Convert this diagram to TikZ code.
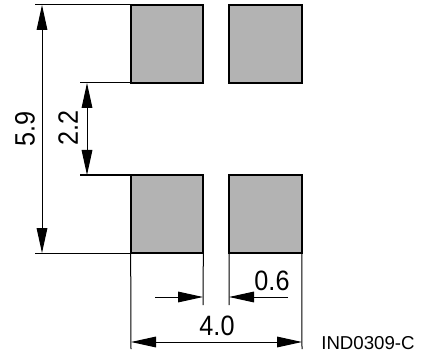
\documentclass[tikz,border=0pt]{standalone}
\usepackage{fontspec}
\setmainfont{Liberation Sans}
\newfontfamily\dimfont[FakeStretch=0.9]{Liberation Sans}
\usetikzlibrary{arrows.meta}
\definecolor{padgray}{HTML}{B3B3B3}
\tikzset{
	padbox/.style={draw=black,fill=padgray,line width=1.5pt,inner sep=0pt,outer sep=0pt,minimum width=54.5pt,minimum height=58.5pt},
	extline/.style={line width=0.75pt},
	dimline/.style={line width=0.75pt,{Triangle[length=18.75pt,width=8pt]}-{Triangle[length=18.75pt,width=8pt]}},
	dimright/.style={line width=0.75pt,-{Triangle[length=18.75pt,width=8pt]}},
	dimlabel/.style={font=\dimfont\fontsize{21}{21}\selectfont,inner sep=0pt}
}
\begin{document}
\begin{tikzpicture}[x=0.75pt,y=-0.75pt]
	\useasboundingbox (0,0) rectangle (428,356);

	% Pads
	\node[padbox] (padTL) at (167,44) {};
	\node[padbox] (padTR) at (265.5,44) {};
	\node[padbox] (padBL) at (167,214) {};
	\node[padbox] (padBR) at (265.5,214) {};

	% Free ends of the extension lines
	\coordinate (topEnd) at (35,5);
	\coordinate (botEnd) at (35,253);
	\coordinate (upEnd) at (80,83);
	\coordinate (lowEnd) at (80,175);
	\coordinate (wideL) at (131,349);
	\coordinate (wideR) at (302,349);
	\coordinate (gapL) at (203,305);
	\coordinate (gapR) at (229,305);

	% Extension lines
	\draw[extline] (padTL.north west) -- (topEnd);
	\draw[extline] (padBL.south west) -- (botEnd);
	\draw[extline] (padTL.south west) -- (upEnd);
	\draw[extline] (padBL.north west) -- (lowEnd);
	\draw[extline] (padBL.south west) -- (wideL);
	\draw[extline] (padBR.south east) -- (wideR);
	\draw[extline] (padBL.south east) -- (gapL);
	\draw[extline] (padBR.south west) -- (gapR);

	% Vertical dimensions
	\coordinate (h59a) at (42,5);
	\coordinate (h59b) at (42,253);
	\coordinate (h22a) at (87,83);
	\coordinate (h22b) at (87,175);
	\draw[dimline] (h59a) -- (h59b);
	\draw[dimline] (h22a) -- (h22b);
	\node[dimlabel,rotate=90] (lab59) at (25,129) {5.9};
	\node[dimlabel,rotate=90] (lab22) at (68,128) {2.2};

	% Horizontal dimensions
	\coordinate (w06a) at (155,297);
	\coordinate (w06b) at (203,297);
	\coordinate (w06c) at (288,297);
	\coordinate (w06d) at (229,297);
	\coordinate (w40a) at (131,342);
	\coordinate (w40b) at (302,342);
	\draw[dimright] (w06a) -- (w06b);
	\draw[dimright] (w06c) -- (w06d);
	\draw[dimline] (w40a) -- (w40b);
	\node[dimlabel] (lab06) at (272,281) {0.6};
	\node[dimlabel] (lab40) at (217,326) {4.0};

	% Drawing number
	\node[font=\fontsize{14}{14}\selectfont,inner sep=0pt] (partno) at (368,343) {IND0309-C};
\end{tikzpicture}
\end{document}
